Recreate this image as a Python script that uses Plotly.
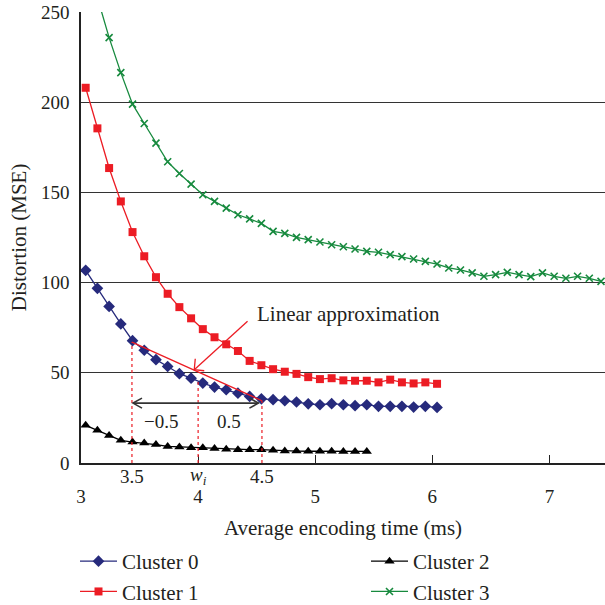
import plotly.graph_objects as go

# ---------------- data ----------------
cluster0_x = [3.04, 3.14, 3.24, 3.34, 3.44, 3.54, 3.64, 3.74, 3.84, 3.94, 4.04, 4.14, 4.24, 4.34, 4.44,
              4.54, 4.64, 4.74, 4.84, 4.94, 5.04, 5.14, 5.24, 5.34, 5.44, 5.54, 5.64, 5.74, 5.84, 5.94, 6.04]
cluster0_y = [106.8, 96.8, 86.8, 77.1, 67.8, 62.5, 57.3, 53.5, 49.5, 47.0, 44.3, 42.1, 40.6, 38.7, 36.9,
              35.6, 35.1, 34.5, 33.8, 32.8, 32.3, 32.9, 32.3, 31.8, 32.3, 31.4, 31.4, 31.4, 31.0, 31.4, 30.8]

cluster1_x = cluster0_x
cluster1_y = [208.0, 185.5, 163.5, 145.0, 128.0, 114.6, 103.0, 93.8, 86.4, 80.2, 74.2, 69.7, 65.8, 62.1, 56.6,
              54.2, 52.0, 50.6, 49.4, 47.6, 46.5, 47.0, 45.8, 45.6, 45.6, 44.7, 46.2, 44.7, 44.1, 44.7, 43.9]

cluster2_x = [3.04, 3.14, 3.24, 3.34, 3.44, 3.54, 3.64, 3.74, 3.84, 3.94, 4.04, 4.14, 4.24, 4.34, 4.44,
              4.54, 4.64, 4.74, 4.84, 4.94, 5.04, 5.14, 5.24, 5.34, 5.44]
cluster2_y = [20.9, 18.1, 15.3, 12.6, 11.6, 11.1, 10.2, 9.2, 8.9, 8.5, 8.5, 8.0, 7.6, 7.4, 7.4,
              7.4, 7.0, 6.6, 6.6, 6.5, 6.5, 6.5, 6.4, 6.4, 6.4]

cluster3_x = [3.14, 3.24, 3.34, 3.44, 3.54, 3.64, 3.74, 3.84, 3.94, 4.04, 4.14, 4.24, 4.34, 4.44, 4.54,
              4.64, 4.74, 4.84, 4.94, 5.04, 5.14, 5.24, 5.34, 5.44, 5.54, 5.64, 5.74, 5.84, 5.94, 6.04,
              6.14, 6.24, 6.34, 6.44, 6.54, 6.64, 6.74, 6.84, 6.94, 7.04, 7.14, 7.24, 7.34, 7.44]
cluster3_y = [258.0, 235.8, 216.4, 198.9, 188.2, 177.3, 167.0, 160.5, 154.6, 148.7, 145.0, 141.3, 137.6, 135.3, 132.8,
              128.4, 127.3, 125.1, 123.8, 122.5, 121.0, 119.9, 118.6, 117.3, 116.8, 115.5, 114.4, 113.1, 111.8, 110.3,
              108.1, 107.0, 105.4, 103.5, 104.4, 105.7, 104.4, 103.3, 105.4, 103.5, 102.4, 103.5, 102.4, 100.7]

series_names = ["Cluster 0", "Cluster 1", "Cluster 2", "Cluster 3"]

x_tickvals = [3, 4, 5, 6, 7]
x_ticktext = ["3", "4", "5", "6", "7"]
y_tickvals = [0, 50, 100, 150, 200, 250]

# linear approximation around w_i
approx_x = [3.435, 4.545]
approx_y = [67.0, 34.5]
w_i = 4.0
left_x, right_x = 3.435, 4.545
dotted_tops = [67.0, 45.8, 34.6]
range_arrow_x = [3.444, 4.515]
range_arrow_y = 33.2
callout_tail = (4.422, 78.6)
callout_tip = (3.967, 51.7)

FONT = "Liberation Serif, Times New Roman, serif"
TXT = "#231f20"
NAVY = "#262a7c"
RED = "#ec1c24"
BLACK = "#000000"
GREEN = "#178a3e"
TICK_SIZE = 19

fig = go.Figure()

fig.add_trace(go.Scatter(x=cluster0_x, y=cluster0_y, mode="lines+markers", name=series_names[0],
                         line=dict(color=NAVY, width=1.3), legend="legend",
                         marker=dict(symbol="diamond", size=9, color=NAVY)))
fig.add_trace(go.Scatter(x=cluster1_x, y=cluster1_y, mode="lines+markers", name=series_names[1],
                         line=dict(color=RED, width=1.3), legend="legend",
                         marker=dict(symbol="square", size=8, color=RED)))
fig.add_trace(go.Scatter(x=cluster2_x, y=cluster2_y, mode="lines+markers", name=series_names[2],
                         line=dict(color=BLACK, width=1.3), legend="legend2",
                         marker=dict(symbol="triangle-up", size=9, color=BLACK)))
fig.add_trace(go.Scatter(x=cluster3_x, y=cluster3_y, mode="lines+markers", name=series_names[3],
                         line=dict(color=GREEN, width=1.3), legend="legend2",
                         marker=dict(symbol="x-thin", size=7, color=GREEN,
                                     line=dict(color=GREEN, width=1.6))))

# linear approximation segment
fig.add_trace(go.Scatter(x=approx_x, y=approx_y, mode="lines", showlegend=False,
                         line=dict(color=RED, width=1.3), hoverinfo="skip"))

# dotted verticals
for xv, top in zip([left_x, w_i, right_x], dotted_tops):
    fig.add_shape(type="line", x0=xv, x1=xv, y0=0, y1=top, xref="x", yref="y",
                  line=dict(color=RED, width=1.2, dash="dot"))

# double arrow
fig.add_shape(type="line", x0=range_arrow_x[0], x1=range_arrow_x[1], y0=range_arrow_y, y1=range_arrow_y,
              line=dict(color="#333333", width=1.8))
fig.add_shape(type="path", xsizemode="pixel", ysizemode="pixel", xanchor=range_arrow_x[0],
              yanchor=range_arrow_y, path="M 9,5 L 0,0 L 9,-5", line=dict(color="#333333", width=1.6))
fig.add_shape(type="path", xsizemode="pixel", ysizemode="pixel", xanchor=range_arrow_x[1],
              yanchor=range_arrow_y, path="M -9,5 L 0,0 L -9,-5", line=dict(color="#333333", width=1.6))

# callout arrow
fig.add_shape(type="line", x0=callout_tail[0], y0=callout_tail[1], x1=callout_tip[0], y1=callout_tip[1],
              line=dict(color=RED, width=1.3))
fig.add_shape(type="path", xsizemode="pixel", ysizemode="pixel", xanchor=callout_tip[0],
              yanchor=callout_tip[1], path="M 1,11 L 0,0 L 10,-1", line=dict(color=RED, width=1.3))

annots = [
    dict(x=4.487, y=82.8, text="Linear approximation", xanchor="left", yanchor="middle",
         font=dict(size=21)),
    dict(x=3.68, y=22.8, text="\u22120.5", xanchor="center", yanchor="middle", font=dict(size=TICK_SIZE)),
    dict(x=4.26, y=22.8, text="0.5", xanchor="center", yanchor="middle", font=dict(size=TICK_SIZE)),
    dict(x=left_x, y=-0.029, yref="paper", text="3.5", xanchor="center", yanchor="middle",
         font=dict(size=TICK_SIZE)),
    dict(x=w_i, y=-0.029, yref="paper", text="<i>w</i><sub><i>i</i></sub>", xanchor="center",
         yanchor="middle", font=dict(size=TICK_SIZE)),
    dict(x=right_x, y=-0.029, yref="paper", text="4.5", xanchor="center", yanchor="middle",
         font=dict(size=TICK_SIZE)),
    # y-axis title
    dict(x=-0.119, xref="paper", y=0.5, yref="paper", text="Distortion (MSE)", textangle=-90,
         xanchor="center", yanchor="middle", font=dict(size=21)),
]
for a in annots:
    a.setdefault("xref", "x")
    a.setdefault("yref", "y")
    a["showarrow"] = False
    a["font"].update(family=FONT, color=TXT)
    fig.add_annotation(**a)

legend_common = dict(orientation="v", xref="container", yref="container", xanchor="left",
                     yanchor="top", font=dict(size=21, family=FONT, color=TXT), itemwidth=37,
                     bgcolor="rgba(0,0,0,0)", tracegroupgap=0, traceorder="normal")

fig.update_layout(
    width=605, height=605,
    margin=dict(l=80.7, r=0, t=11.5, b=142, autoexpand=False),
    paper_bgcolor="white", plot_bgcolor="white",
    font=dict(family=FONT, color=TXT, size=TICK_SIZE),
    showlegend=True,
    legend=dict(x=75 / 605, y=1 - 541 / 605, **legend_common),
    legend2=dict(x=366 / 605, y=1 - 541 / 605, **legend_common),
    xaxis=dict(range=[3, 7.474], tickvals=x_tickvals, ticktext=x_ticktext, showgrid=False,
               showline=True, linecolor="#222222", linewidth=1.5, ticks="inside", ticklen=8,
               tickcolor="#222222", tickwidth=1.3, ticklabelstandoff=15, zeroline=False,
               tickfont=dict(size=TICK_SIZE),
               title=dict(text="Average encoding time (ms)", font=dict(size=21))),
    yaxis=dict(range=[0, 250], tickvals=y_tickvals, showgrid=True, gridcolor="#333333", gridwidth=1,
               showline=True, linecolor="#222222", linewidth=1.5, ticks="", zeroline=False,
               ticklabelstandoff=6, tickfont=dict(size=TICK_SIZE)),
)

fig.write_html("out.html", config={"displayModeBar": False},
               post_script="document.body.style.margin='0';")
